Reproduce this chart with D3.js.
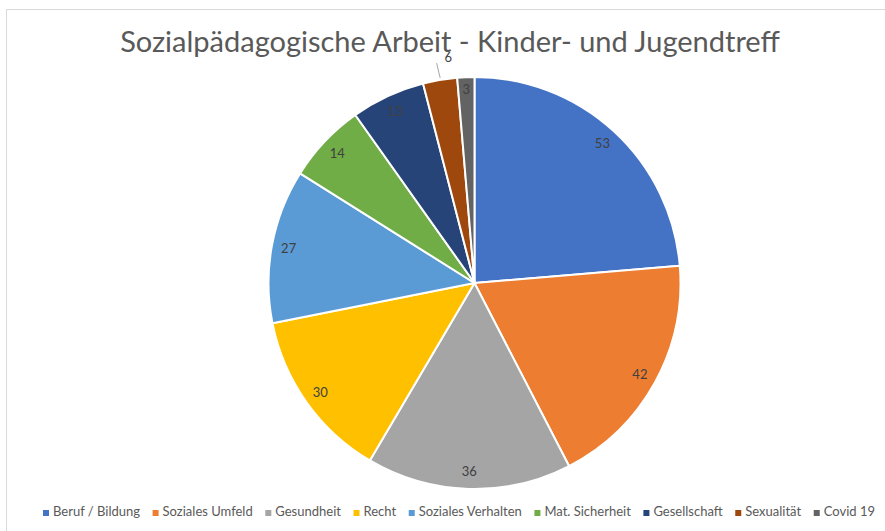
<!DOCTYPE html>
<html><head><meta charset="utf-8">
<script src="https://cdn.jsdelivr.net/npm/d3@7/dist/d3.min.js"></script>
<style>html,body{margin:0;padding:0;background:#fff;overflow:hidden}</style>
</head><body>
<svg id="chart" width="885" height="531"></svg>
<script>
const categories = ["Beruf / Bildung","Soziales Umfeld","Gesundheit","Recht","Soziales Verhalten","Mat. Sicherheit","Gesellschaft","Sexualität","Covid 19"];
const values = [53,42,36,30,27,14,13,6,3];
const colors = ["#4472C4","#ED7D31","#A5A5A5","#FFC000","#5B9BD5","#70AD47","#264478","#9E480E","#636363"];
const title = "Sozialpädagogische Arbeit - Kinder- und Jugendtreff";

const svg = d3.select("#chart");
const font = "Lato, 'Open Sans', sans-serif";

// frame
svg.append("path").attr("d","M6.5,531 L6.5,9.5 L885,9.5").attr("fill","none").attr("stroke","#d9d9d9").attr("stroke-width",1);

// title
const t = svg.append("text").attr("x",450).attr("y",52).attr("text-anchor","middle")
  .attr("font-family",font).attr("font-size",30).attr("fill","#595959").text(title);
const tw = t.node().getComputedTextLength();
t.attr("font-size", 30*660/tw);

// pie
const cx = 474.5, cy = 283, r = 206;
const data = categories.map((c,i)=>({c, v:values[i], col:colors[i]}));
const pie = d3.pie().value(d=>d.v).sort(null);
const arcs = pie(data);
const arc = d3.arc().innerRadius(0).outerRadius(r);
const g = svg.append("g").attr("transform",`translate(${cx},${cy})`);
g.selectAll("path.slice").data(arcs).join("path").attr("class","slice")
  .attr("d",arc).attr("fill",d=>d.data.col).attr("stroke","#fff").attr("stroke-width",2).attr("stroke-linejoin","round");

const labR = 189;
arcs.forEach((a,i)=>{
  const m = (a.startAngle+a.endAngle)/2;
  let rr = labR;
  if (a.data.v === 6) {
    // outside label with leader line (best-fit placement)
    const lm = m + 0.035;
    g.append("line")
      .attr("x1",Math.sin(m)*208+0.5).attr("y1",-Math.cos(m)*208)
      .attr("x2",Math.sin(m)*223-0.5).attr("y2",-Math.cos(m)*223)
      .attr("stroke","#a6a6a6").attr("stroke-width",1);
    g.append("text").attr("x",Math.sin(lm)*228+4).attr("y",-Math.cos(lm)*228).attr("dy","0.35em")
      .attr("text-anchor","middle").attr("font-family",font).attr("font-size",13).attr("fill","#404040").text(a.data.v);
    return;
  }
  if (a.data.v === 3) rr = 194;
  g.append("text").attr("x",Math.sin(m)*rr).attr("y",-Math.cos(m)*rr).attr("dy","0.35em")
    .attr("text-anchor","middle").attr("font-family",font).attr("font-size",13).attr("fill","#404040").text(a.data.v);
});

// legend
const lg = svg.append("g");
const items = data.map(d=>{
  const gi = lg.append("g");
  gi.append("rect").attr("width",6).attr("height",6).attr("fill",d.col);
  const tx = gi.append("text").attr("x",10).attr("y",6).attr("font-family",font).attr("font-size",13).attr("fill","#595959").text(d.c);
  return {gi, w: 10 + tx.node().getComputedTextLength()};
});
const totalW = 832;
const sumW = d3.sum(items,d=>d.w);
const gap = (totalW - sumW)/(items.length-1);
let x = 43;
items.forEach(it=>{ it.gi.attr("transform",`translate(${x},${510})`); x += it.w + gap; });
</script>
</body></html>
